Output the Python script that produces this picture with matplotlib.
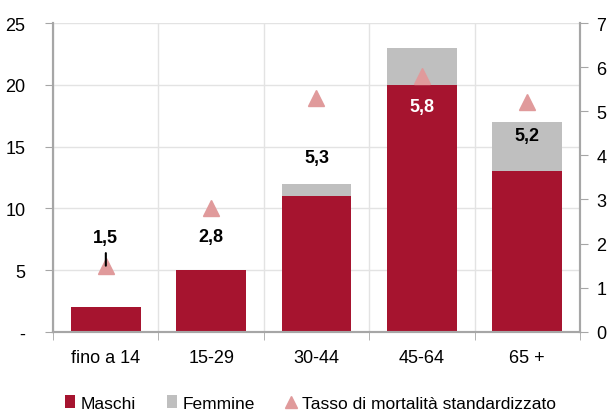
import matplotlib
matplotlib.use('Agg')
import matplotlib.pyplot as plt
import numpy as np

# data
categories = ['fino a 14', '15-29', '30-44', '45-64', '65 +']
maschi = [2, 5, 11, 20, 13]
femmine = [0, 0, 1, 3, 4]
tasso = [1.5, 2.8, 5.3, 5.8, 5.2]
tasso_labels = ['1,5', '2,8', '5,3', '5,8', '5,2']

# label placement (pixels from the marker) and colour
label_offsets = [28, -28, -59, -31, -33]
label_colors = ['black', 'black', 'black', 'white', 'black']

plt.rcParams['font.family'] = ['Liberation Sans', 'DejaVu Sans']

c_m = '#A6142F'
c_f = '#BFBFBF'
c_t = '#E09A9B'
c_ax = '#A6A6A6'

fig = plt.figure(figsize=(6.11, 4.14), dpi=100)
ax = fig.add_axes([0.087, 0.196, 0.862, 0.746])
ax2 = ax.twinx()

x = np.arange(len(categories))
ax.bar(x, maschi, width=0.66, color=c_m, label='Maschi', zorder=3)
ax.bar(x, femmine, width=0.66, bottom=maschi, color=c_f, label='Femmine', zorder=3)

ax2.plot(x, tasso, linestyle='none', marker='^', ms=11, color=c_t,
         label='Tasso di mortalità standardizzato', zorder=4)

for i, (v, lab) in enumerate(zip(tasso, tasso_labels)):
    off = label_offsets[i]
    kw = {}
    if i == 0:
        # short leader line from the label down to the marker
        kw['arrowprops'] = dict(arrowstyle='-', color='black', lw=1.5,
                                shrinkA=3, shrinkB=0)
    ax2.annotate(lab, (x[i], v), xytext=(0, off), textcoords='offset pixels',
                 ha='center', va='center', fontsize=13, fontweight='bold',
                 color=label_colors[i], zorder=5, **kw)

ax.set_xlim(-0.5, len(categories) - 0.5)
ax.set_ylim(0, 25)
ax2.set_ylim(0, 7)
ax.set_yticks([0, 5, 10, 15, 20, 25])
ax.set_yticklabels(['-', '5', '10', '15', '20', '25'])
ax2.set_yticks(range(8))

ax.set_xticks(x)
ax.set_xticklabels(categories)
ax.set_xticks(np.arange(-0.5, len(categories)), minor=True)
ax.tick_params(axis='x', which='major', length=0, pad=12, labelsize=13)
ax.tick_params(axis='x', which='minor', length=6, color=c_ax, direction='out')
ax.tick_params(axis='y', length=6, color=c_ax, labelsize=13, pad=14)
ax2.tick_params(axis='y', length=6, color=c_ax, labelsize=13, pad=6)

ax.grid(True, axis='y', color='#E3E3E3', lw=1, zorder=0)
ax.grid(True, axis='x', which='minor', color='#E3E3E3', lw=1, zorder=0)

for a in (ax, ax2):
    a.spines['top'].set_visible(False)
    for s in ('left', 'right', 'bottom'):
        a.spines[s].set_color(c_ax)
        a.spines[s].set_linewidth(1.5)

h1, l1 = ax.get_legend_handles_labels()
h2, l2 = ax2.get_legend_handles_labels()
fig.legend(h1 + h2, l1 + l2, loc='center', bbox_to_anchor=(0.508, 0.024),
           ncol=3, frameon=False, fontsize=12.5, handlelength=0.6,
           handletextpad=0.3, columnspacing=1.8, markerscale=0.75)

fig.savefig('out.png', dpi=100)
